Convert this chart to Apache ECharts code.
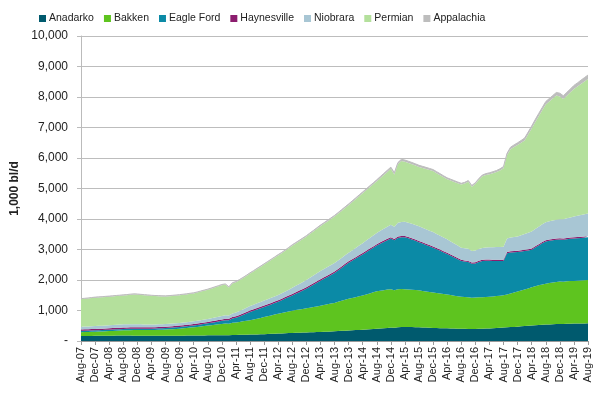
<!DOCTYPE html>
<html>
<head>
<meta charset="utf-8">
<script src="https://cdn.jsdelivr.net/npm/echarts@6/dist/echarts.min.js"></script>
<style>
  html, body { margin: 0; padding: 0; background: #fff; }
  #chart { width: 608px; height: 396px; }
</style>
</head>
<body>
<div id="chart"></div>
<script>
// monthly categories Aug-07 .. Aug-19
var monthNames = ['Jan','Feb','Mar','Apr','May','Jun','Jul','Aug','Sep','Oct','Nov','Dec'];
var months = [];
for (var y = 2007, m = 7; y < 2019 || (y === 2019 && m <= 7); ) {
  months.push(monthNames[m] + '-' + String(y).slice(2));
  m++;
  if (m === 12) { m = 0; y++; }
}

// 1,000 bl/d
var anadarko = [165,166,167,168,170, 171,172,174,175, 176,178,179,180, 179,178,176,175, 173,172,171,170,
  169,170,170,170, 171,172,174,175, 176,177,179,180, 181,182,184,185, 186,187,189,190, 192,190,197,200,
  202,205,207,210, 213,217,221,225, 230,235,240,245, 250,255,260,265, 268,272,276,280, 284,287,291,295,
  301,307,314,320, 326,332,339,345, 351,358,364,370, 377,385,392,400, 410,420,430,440, 435,450,456,460,
  458,456,453,450, 445,440,435,430, 426,422,418,415, 411,407,403,400, 398,397,392,395, 398,402,406,410,
  417,425,432,440, 448,455,462,470, 480,490,500,510, 518,525,532,540, 545,550,555,560, 560,564,567,570,
  572,575,577,580];
var bakken = [125,127,129,132,135, 138,142,146,150, 155,160,165,170, 174,178,182,185, 186,188,189,190,
  193,197,201,205, 211,217,223,230, 240,250,260,270, 282,295,308,320, 332,345,357,370, 380,375,400,410,
  425,440,455,470, 492,515,537,560, 582,605,627,650, 670,690,710,730, 745,760,775,790, 808,825,843,860,
  877,895,912,930, 957,985,1012,1040, 1060,1080,1100,1120, 1148,1175,1203,1230, 1240,1248,1255,1260,
  1225,1250,1248,1240, 1232,1225,1218,1210, 1197,1185,1172,1160, 1148,1135,1122,1110, 1095,1080,1065,1050,
  1045,1040,1025,1030, 1033,1035,1038,1040, 1045,1050,1055,1060, 1080,1105,1128,1150, 1175,1200,1225,1250,
  1275,1300,1320,1340, 1355,1370,1380,1390, 1385,1393,1397,1400, 1405,1410,1415,1420];
var eagleFord = [45,45,45,45,45, 45,45,45,45, 45,45,45,45, 45,45,45,45, 45,45,45,45,
  46,47,49,50, 51,52,54,55, 56,57,59,60, 63,67,71,75, 80,86,93,100, 112,115,138,150,
  175,205,238,270, 285,300,315,330, 345,360,375,390, 415,445,472,500, 535,570,605,640, 685,730,775,820,
  860,900,940,980, 1030,1080,1130,1180, 1222,1265,1308,1350, 1388,1425,1462,1500, 1540,1580,1620,1660,
  1640,1680,1695,1700, 1675,1645,1612,1580, 1552,1525,1497,1470, 1435,1400,1365,1330, 1290,1250,1210,1170,
  1160,1150,1115,1120, 1160,1185,1190,1180, 1165,1150,1135,1120, 1350,1340,1320,1300, 1280,1260,1245,1230,
  1270,1310,1350,1380, 1385,1385,1385,1380, 1378,1382,1386,1390, 1393,1395,1398,1400];
var haynesville = [45,45,45,45,45, 46,46,47,47, 48,48,48,48, 48,47,47,46, 46,45,45,45,
  45,45,45,45, 45,45,45,45, 45,45,45,45, 45,45,45,45, 46,46,46,46, 47,46,48,48,
  49,49,50,50, 50,50,50,50, 50,50,50,50, 50,50,50,50, 50,50,50,50, 50,50,50,50,
  49,49,49,49, 48,48,48,48, 47,47,46,46, 46,46,45,45, 45,45,45,45, 43,44,42,42,
  42,42,42,41, 41,41,41,41, 41,41,40,40, 40,40,40,40, 40,40,39,40, 40,40,40,40,
  40,40,40,40, 40,40,40,40, 40,40,40,40, 40,40,40,40, 40,40,40,40, 40,40,40,40,
  40,40,40,40];
var niobrara = [90,91,92,94,95, 96,97,99,100, 101,102,104,105, 104,103,101,100, 98,95,92,90,
  89,88,86,85, 85,85,85,85, 86,87,89,90, 92,95,97,100, 102,105,107,110, 114,110,121,125,
  131,137,144,150, 152,155,157,160, 162,165,167,170, 177,185,192,200, 210,220,230,240, 248,255,263,270,
  272,275,277,280, 280,280,280,280, 290,300,310,320, 332,345,357,370, 380,390,400,410, 400,450,462,470,
  472,475,478,480, 478,475,472,470, 462,455,447,440, 430,420,410,400, 400,395,378,380, 385,390,395,400,
  407,415,422,430, 440,450,460,470, 492,515,537,560, 568,575,582,590, 598,605,612,620, 630,645,662,680,
  695,710,725,740];
var permian = [900,908,915,922,930, 932,933,934,935, 938,940,942,945, 952,965,975,970, 962,955,948,940,
  930,922,912,905, 905,907,908,910, 911,912,914,915, 925,935,945,955, 970,985,1000,1015, 1005,920,985,995,
  1010,1025,1040,1060, 1090,1120,1150,1180, 1210,1240,1270,1300, 1315,1330,1355,1380, 1390,1400,1410,1420,
  1432,1445,1457,1470, 1482,1495,1507,1520, 1530,1540,1550,1560, 1580,1600,1620,1640, 1652,1665,1677,1690,
  1725,1760,1795,1830, 1720,1920,2000,1965, 1960,1955,1950,1945, 1960,1975,1990,2000, 1992,1985,1977,1970,
  1995,2020,2045,2070, 2120,2200,2110,2185, 2270,2350,2375,2400, 2430,2460,2510,2575, 2735,2900,2950,2995,
  3030,3070,3220,3375, 3500,3620,3740,3865, 3930,4000,4075,4030, 3940,4020,4100,4185, 4240,4300,4355,4410];
var appalachia = [18,18,18,19,19, 19,19,19,20, 20,20,20,20, 20,20,20,20, 20,20,20,20,
  20,20,20,20, 20,20,20,20, 20,20,20,20, 20,20,20,20, 21,21,21,22, 22,22,22,22,
  23,23,24,25, 25,25,25,25, 26,26,27,28, 28,29,29,30, 30,31,31,32, 33,33,34,35,
  36,36,37,38, 38,39,39,40, 40,41,41,42, 44,46,48,50, 51,52,54,55, 55,55,55,55,
  55,55,55,55, 54,52,51,50, 49,48,46,45, 44,42,41,40, 40,40,40,40, 41,42,44,45,
  48,50,52,55, 60,65,70,75, 78,80,82,85, 88,90,92,95, 98,100,102,105, 107,110,112,115,
  118,122,126,130];

var seriesNames = ['Anadarko','Bakken','Eagle Ford','Haynesville','Niobrara','Permian','Appalachia'];
var seriesData = [anadarko, bakken, eagleFord, haynesville, niobrara, permian, appalachia];
var colors = ['#005a6e','#5ec41f','#0b8aa6','#8c1d6e','#a8c6d4','#b4e09c','#bdbdbd'];

var font = "'Liberation Sans', Arial, sans-serif";

var chart = echarts.init(document.getElementById('chart'));
var option = {
  animation: false,
  color: colors,
  legend: {
    top: 8,
    left: 34,
    icon: 'rect',
    itemWidth: 7,
    itemHeight: 7,
    itemGap: 10,
    textStyle: { fontFamily: font, fontSize: 10.5, color: '#222', padding: [0, 0, 0, -2] },
    data: seriesNames
  },
  grid: { left: 81, right: 20, top: 36, bottom: 55 },
  xAxis: {
    type: 'category',
    boundaryGap: false,
    data: months,
    axisLine: { lineStyle: { color: '#999' } },
    axisTick: { interval: 3, length: 4, lineStyle: { color: '#999' } },
    axisLabel: { interval: 3, rotate: 90, fontFamily: font, fontSize: 11, color: '#222', margin: 6 }
  },
  yAxis: {
    type: 'value',
    min: 0,
    max: 10000,
    interval: 1000,
    name: '1,000 bl/d',
    nameLocation: 'middle',
    nameGap: 44,
    nameTextStyle: { fontFamily: font, fontSize: 12, fontWeight: 'bold', color: '#222' },
    axisLine: { show: true, lineStyle: { color: '#bbb' } },
    axisTick: { show: true, length: 4, lineStyle: { color: '#bbb' } },
    splitLine: { lineStyle: { color: '#bdbdbd' } },
    axisLabel: {
      fontFamily: font, fontSize: 12, color: '#222', margin: 13,
      formatter: function (v) { return v === 0 ? '-' : v.toLocaleString('en-US'); }
    }
  },
  series: seriesNames.map(function (name, i) {
    return {
      name: name,
      type: 'line',
      stack: 'total',
      data: seriesData[i],
      symbol: 'none',
      lineStyle: { width: name === 'Appalachia' ? 1 : 0, color: colors[i] },
      areaStyle: { color: colors[i], opacity: 1 }
    };
  })
};
chart.setOption(option);
</script>
</body>
</html>
